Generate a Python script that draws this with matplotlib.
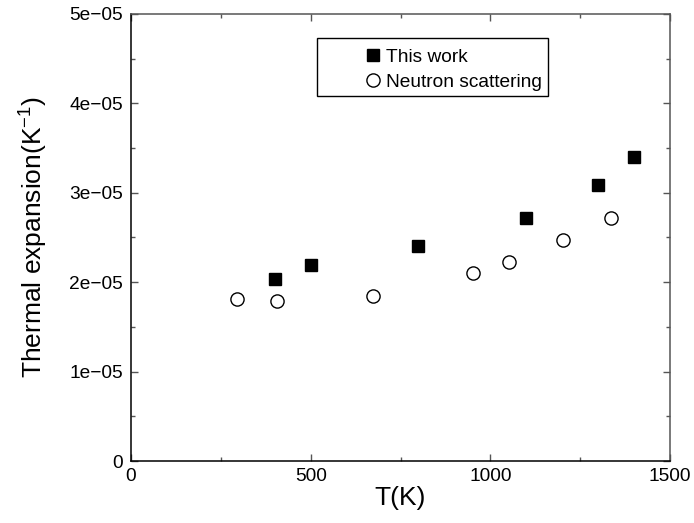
import matplotlib
matplotlib.use("Agg")
import matplotlib.pyplot as plt
from matplotlib.ticker import MultipleLocator
from matplotlib.patches import Rectangle

plt.rcParams['font.family'] = ['Liberation Sans', 'DejaVu Sans']

# Data
this_work_T = [400, 500, 800, 1100, 1300, 1400]
this_work_alpha = [2.04e-05, 2.19e-05, 2.41e-05, 2.72e-05, 3.09e-05, 3.40e-05]
neutron_T = [296, 406, 673, 952, 1052, 1201, 1335]
neutron_alpha = [1.81e-05, 1.79e-05, 1.85e-05, 2.10e-05, 2.23e-05, 2.47e-05, 2.72e-05]

x_ticks = [0, 500, 1000, 1500]
y_ticks = [0, 1e-05, 2e-05, 3e-05, 4e-05, 5e-05]
y_ticklabels = ["0", "1e\u221205", "2e\u221205", "3e\u221205", "4e\u221205", "5e\u221205"]

fig = plt.figure(figsize=(6.94, 5.23), dpi=100)
ax = fig.add_axes([131/694, 62/523, 539/694, 447/523])

ax.plot(this_work_T, this_work_alpha, linestyle='none', marker='s', markersize=8,
        color='black', label='This work')
ax.plot(neutron_T, neutron_alpha, linestyle='none', marker='o', markersize=9.5,
        markerfacecolor='white', markeredgecolor='black', markeredgewidth=1.0,
        label='Neutron scattering')

ax.set_xlim(0, 1500)
ax.set_ylim(0, 5e-05)
ax.set_xticks(x_ticks)
ax.set_xticklabels([str(t) for t in x_ticks])
ax.set_yticks(y_ticks)
ax.set_yticklabels(y_ticklabels)
ax.xaxis.set_minor_locator(MultipleLocator(250))
ax.yaxis.set_minor_locator(MultipleLocator(5e-06))
ax.tick_params(which='both', direction='in', top=True, right=True, labelsize=13.8,
               color='#555555')
ax.tick_params(which='major', length=5, width=1)
ax.tick_params(which='minor', length=3, width=1)
ax.tick_params(axis='x', pad=5)
ax.tick_params(axis='y', pad=6)

for s in ['left', 'bottom']:
    ax.spines[s].set_color('black')
for s in ['right', 'top']:
    ax.spines[s].set_color('#555555')
for s in ax.spines.values():
    s.set_linewidth(1.1)

ax.set_xlabel('T(K)', fontsize=19, labelpad=1)
ax.set_ylabel('Thermal expansion(K$^{\\mathregular{-1}}$)', fontsize=19, labelpad=14)

# Legend frame and entries
ax.add_patch(Rectangle((0.345, 0.817), 0.429, 0.129, transform=ax.transAxes,
                       facecolor='white', edgecolor='black', linewidth=1.0, zorder=3))
leg = ax.legend(loc='upper left', bbox_to_anchor=(0.425, 0.94), frameon=False,
                fontsize=13.8, handlelength=0.6, handletextpad=0.35, labelspacing=0.4,
                borderaxespad=0)
leg.set_zorder(4)

fig.savefig('out.png', dpi=100)
